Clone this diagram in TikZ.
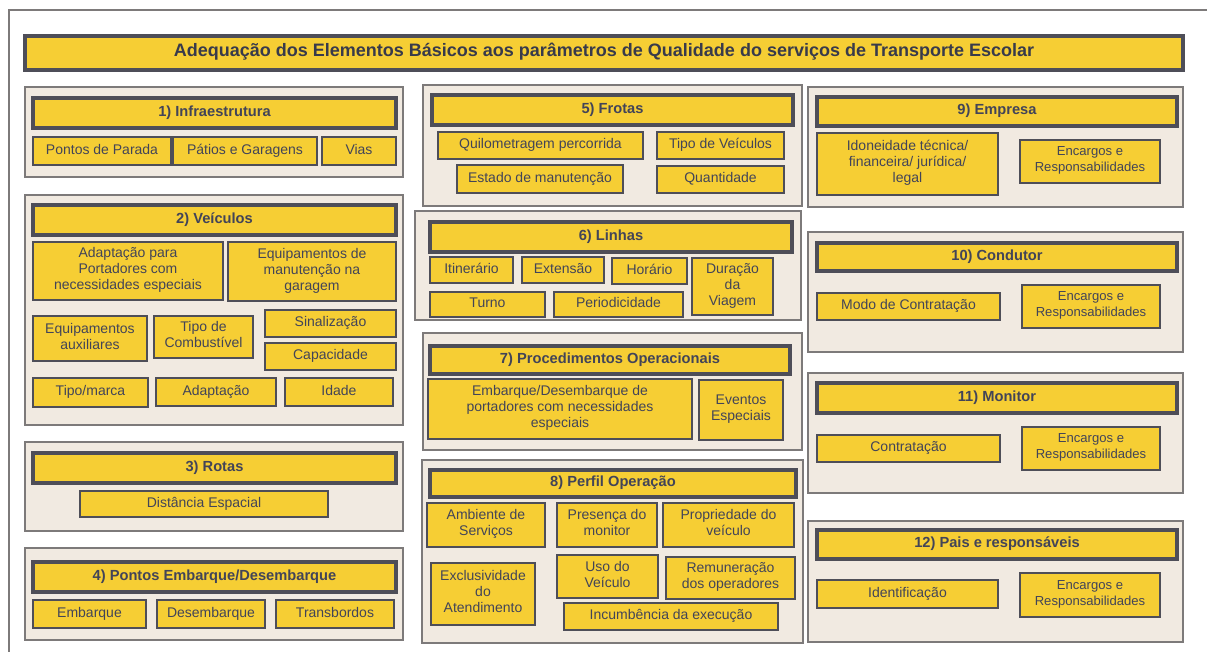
\documentclass[tikz,border=0pt]{standalone}
\usepackage{fontspec}
\setmainfont{Liberation Sans}
\definecolor{gold}{RGB}{246,206,52}
\definecolor{rim}{RGB}{78,78,88}
\definecolor{sand}{RGB}{241,234,225}
\definecolor{frame}{RGB}{125,122,122}
\definecolor{ink}{RGB}{66,68,88}
\tikzset{
  span/.style n args={4}{at={({(#1+#3)/2},{(#2+#4)/2})},
    minimum width={0.75pt*(#3-#1)},minimum height={0.75pt*(#4-#2)}},
  panel/.style={draw=frame,fill=sand,line width=0.9pt,inner sep=0pt},
  head/.style={draw=rim,fill=gold,line width=2.4pt,inner sep=0pt,text=ink,
    font=\fontsize{11}{13}\selectfont\bfseries,execute at begin node=\strut},
  cell/.style={draw=rim,fill=gold,line width=1.9pt,inner sep=0pt,text=ink,
    align=center,font=\fontsize{10.5}{12}\selectfont,
    execute at begin node=\strut,execute at end node=\strut},
  banner/.style={draw=rim,fill=gold,line width=2.8pt,inner sep=0pt,text=ink!85!black,
    font=\fontsize{13.5}{15}\selectfont\bfseries,execute at begin node=\strut},
}

\begin{document}
\begin{tikzpicture}[x=0.75pt,y=-0.75pt]
  \useasboundingbox (0,0) rectangle (1207,652);
  \draw[frame,line width=1.4pt] (1207,10) -- (9,10) -- (9,652);
  \node[banner,span={25}{36}{1183}{70}] (title) {Adequação dos Elementos Básicos aos parâmetros de Qualidade do serviços de Transporte Escolar};
  % panels and their headings
  \foreach \n/\gx/\gy/\gX/\gY/\hx/\hy/\hX/\hY/\t in {
    1/25/87/403/177/33/98/396/128/{1) Infraestrutura},
    2/25/195/403/425/33/205/396/235/{2) Veículos},
    3/25/442/403/531/33/453/396/483/{3) Rotas},
    4/25/548/403/640/33/562/396/592/{4) Pontos Embarque/Desembarque},
    5/423/85/802/206/432/95/793/125/{5) Frotas},
    6/415/211/801/320/430/222/792/252/{6) Linhas},
    7/423/333/802/450/430/346/790/374/{7) Procedimentos Operacionais},
    8/422/460/803/643/430/470/796/497/{8) Perfil Operação},
    9/808/87/1183/207/817/97/1177/126/{9) Empresa},
    10/808/232/1183/352/817/243/1177/271/{10) Condutor},
    11/808/373/1183/493/817/383/1177/413/{11) Monitor},
    12/808/521/1183/642/817/530/1177/559/{12) Pais e responsáveis}}{
    \node[panel,span={\gx}{\gy}{\gX}{\gY}] (g\n) {};
    \node[head,span={\hx}{\hy}{\hX}{\hY}] (h\n) {\t};
  }
  % items
  \foreach \n/\xa/\ya/\xb/\yb/\t in {
    pp/33/137/171/165/{Pontos de Parada},
    pg/173/137/317/165/{Pátios e Garagens},
    vi/322/137/396/165/{Vias},
    ap/33/242/223/300/{Adaptação para\\Portadores com\\necessidades especiais},
    em/228/242/396/301/{Equipamentos de\\manutenção na\\garagem},
    ea/33/316/147/361/{Equipamentos\\auxiliares},
    tc/154/316/253/358/{Tipo de\\Combustível},
    si/265/310/396/337/{Sinalização},
    ca/265/343/396/370/{Capacidade},
    tm/33/378/148/407/{Tipo/marca},
    ad/156/378/276/406/{Adaptação},
    id/285/378/393/406/{Idade},
    de/80/491/328/517/{Distância Espacial},
    eb/33/600/146/628/{Embarque},
    ds/157/600/265/628/{Desembarque},
    tb/276/600/394/628/{Transbordos},
    qp/438/132/643/159/{Quilometragem percorrida},
    tv/657/132/784/159/{Tipo de Veículos},
    es/457/165/623/193/{Estado de manutenção},
    qt/657/166/784/193/{Quantidade},
    it/430/257/513/283/{Itinerário},
    ex/522/257/604/283/{Extensão},
    ho/612/258/687/284/{Horário},
    du/692/258/773/315/{Duração\\da\\Viagem},
    tu/430/292/545/317/{Turno},
    pe/554/292/683/317/{Periodicidade},
    ed/428/379/692/439/{Embarque/Desembarque de\\portadores com necessidades\\especiais},
    ev/699/380/783/440/{Eventos\\Especiais},
    as/427/503/545/547/{Ambiente de\\Serviços},
    pm/557/503/657/547/{Presença do\\monitor},
    pv/663/503/794/547/{Propriedade do\\veículo},
    xa/431/563/535/625/{Exclusividade\\do\\Atendimento},
    uv/557/555/658/598/{Uso do\\Veículo},
    ro/666/557/795/599/{Remuneração\\dos operadores},
    ie/564/603/778/630/{Incumbência da execução},
    io/817/133/998/195/{Idoneidade técnica/\\financeira/ jurídica/\\legal},
    mc/817/293/1000/320/{Modo de Contratação},
    co/817/435/1000/462/{Contratação},
    ic/817/580/998/608/{Identificação}}{
    \node[cell,span={\xa}{\ya}{\xb}{\yb}] (\n) {\t};
  }
  \foreach \n/\xa/\ya/\xb/\yb in {9/1020/140/1160/183,10/1022/285/1160/328,11/1022/427/1160/470,12/1020/573/1160/617}
    \node[cell,font=\fontsize{9.8}{12}\selectfont,span={\xa}{\ya}{\xb}{\yb}] (enc\n) {Encargos e\\Responsabilidades};
\end{tikzpicture}
\end{document}
